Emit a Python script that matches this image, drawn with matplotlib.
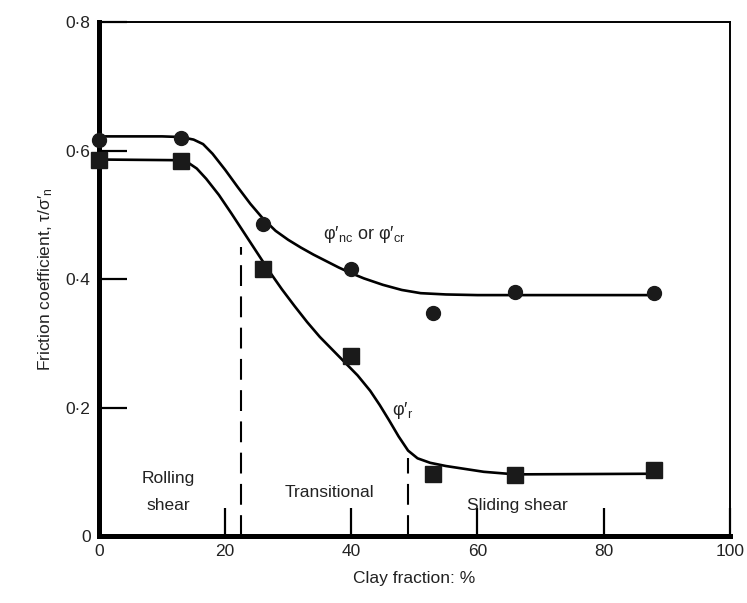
import matplotlib
matplotlib.use("Agg")
import matplotlib.pyplot as plt
from matplotlib.ticker import FuncFormatter

plt.rcParams["font.family"] = ["Liberation Sans", "DejaVu Sans"]
plt.rcParams["mathtext.fontset"] = "custom"
plt.rcParams["mathtext.rm"] = "Liberation Sans"
plt.rcParams["mathtext.it"] = "Liberation Sans:italic"

# measured points
clay_nc = [0, 13, 26, 40, 53, 66, 88]
phi_nc = [0.616, 0.619, 0.486, 0.416, 0.347, 0.380, 0.379]
clay_r = [0, 13, 26, 40, 53, 66, 88]
phi_r = [0.585, 0.584, 0.416, 0.280, 0.096, 0.095, 0.103]

# fitted curves
fit_nc_x = [0, 10, 13, 15, 16.5, 18, 20, 22, 24, 26, 28, 30, 32, 34, 36, 38,
            40, 42, 45, 48, 51, 55, 60, 88]
fit_nc_y = [0.622, 0.622, 0.621, 0.617, 0.610, 0.595, 0.570, 0.543, 0.517, 0.494,
            0.475, 0.461, 0.449, 0.438, 0.428, 0.418, 0.409, 0.401, 0.391, 0.383,
            0.378, 0.376, 0.375, 0.375]
fit_r_x = [0, 12, 14, 15.5, 17, 19, 21, 23, 25, 27, 29, 31, 33, 35, 37, 39, 41,
           43, 44.5, 46, 47.5, 49, 50.5, 52.5, 55, 57, 61, 66, 88]
fit_r_y = [0.586, 0.585, 0.582, 0.572, 0.556, 0.531, 0.502, 0.472, 0.442, 0.412,
           0.384, 0.358, 0.333, 0.310, 0.290, 0.270, 0.250, 0.226, 0.204, 0.180,
           0.155, 0.133, 0.121, 0.114, 0.109, 0.106, 0.100, 0.096, 0.097]

# zone boundaries: (x, top of dashed line)
bounds_x = [22.5, 49]
bounds_top = [0.45, 0.121]

fig = plt.figure(figsize=(7.47, 6.03), dpi=100)
ax = fig.add_axes([0.1325, 0.111, 0.8445, 0.8525])

ax.plot(fit_nc_x, fit_nc_y, color="black", lw=1.9, zorder=2, solid_joinstyle="round")
ax.plot(fit_r_x, fit_r_y, color="black", lw=1.9, zorder=2, solid_joinstyle="round")
ax.plot(clay_nc, phi_nc, "o", color="#1a1a1a", ms=10, zorder=3, clip_on=False)
ax.plot(clay_r, phi_r, "s", color="#1a1a1a", ms=12, zorder=3, clip_on=False)

for bx, bt in zip(bounds_x, bounds_top):
    ax.plot([bx, bx], [0, bt], color="black", lw=1.5, dashes=(10, 5))

txt = dict(ha="center", va="center", fontsize=12.5, color="#222")
ax.text(11, 0.09, "Rolling", **txt)
ax.text(11, 0.047, "shear", **txt)
ax.text(36.5, 0.068, "Transitional", **txt)
ax.text(66.3, 0.048, "Sliding shear", **txt)
ax.text(42, 0.47, "\u03c6\u2032$_{\\mathrm{nc}}$ or \u03c6\u2032$_{\\mathrm{cr}}$",
        ha="center", va="center", fontsize=13, color="#222")
ax.text(48.2, 0.195, "\u03c6\u2032$_{\\mathrm{r}}$",
        ha="center", va="center", fontsize=13, color="#222")

ax.set_xlim(0, 100)
ax.set_ylim(0, 0.8)
ax.set_xticks([0, 20, 40, 60, 80, 100])
ax.set_yticks([0, 0.2, 0.4, 0.6, 0.8])
ax.yaxis.set_major_formatter(FuncFormatter(
    lambda v, p: "0" if v == 0 else f"{v:.1f}".replace(".", "\u00b7")))
ax.tick_params(direction="in", length=20, width=1.6, labelsize=12.5, colors="black",
               labelcolor="#222", pad=6)

for s in ["left", "bottom"]:
    ax.spines[s].set_linewidth(3.6)
for s in ["top", "right"]:
    ax.spines[s].set_linewidth(1.4)

ax.set_xlabel("Clay fraction: %", fontsize=12.5, color="#222", labelpad=8)
ax.set_ylabel("Friction coefficient, \u03c4/\u03c3\u2032$_{\\mathrm{n}}$", fontsize=12.5,
              color="#222", labelpad=8)

fig.savefig("out.png", dpi=100)
